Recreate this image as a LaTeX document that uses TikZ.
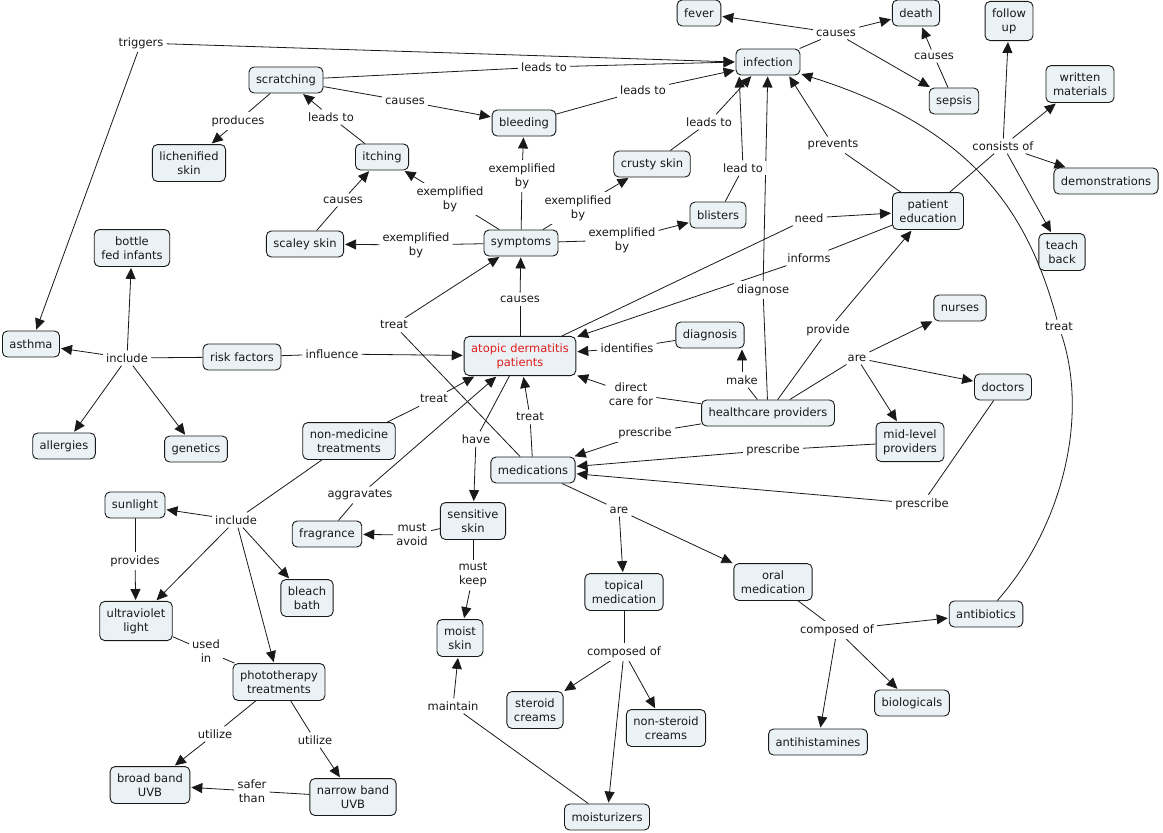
\documentclass[tikz,border=0pt]{standalone}
\usepackage{fontspec}
\setmainfont{DejaVu Sans}
\usetikzlibrary{arrows.meta}
\definecolor{cfill}{RGB}{235,242,245}
\definecolor{cred}{RGB}{225,30,30}
\pgfdeclarelayer{bg}
\pgfsetlayers{bg,main}
\begin{document}
\begin{tikzpicture}[x=1pt,y=-1pt,
 concept/.style={draw=black!90, line width=0.9pt, rounded corners=5pt, fill=cfill, align=center, inner xsep=7pt, inner ysep=7pt, minimum height=26pt, font=\fontsize{11.5}{14}\selectfont, text=black!90},
 lab/.style={fill=white, inner sep=3pt, align=center, font=\fontsize{11.5}{14}\selectfont, text=black!90},
 ln/.style={line width=0.8pt, draw=black!90},
 ar/.style={ln, -{Triangle[length=11pt,width=10pt]}, shorten >=1pt},
]
\useasboundingbox (0,0) rectangle (1163,833);
% concepts
\node[concept] (fever) at (699,13) {fever};
\node[concept] (death) at (916,13) {death};
\node[concept] (follow) at (1009,21) {follow\\up};
\node[concept] (infection) at (768,62) {infection};
\node[concept] (written) at (1080,84) {written\\materials};
\node[concept] (sepsis) at (954,101) {sepsis};
\node[concept] (scratching) at (286,80) {scratching};
\node[concept] (bleeding) at (524,123) {bleeding};
\node[concept] (lichen) at (189,163) {lichenified\\skin};
\node[concept] (itching) at (382,157) {itching};
\node[concept] (crusty) at (652,164) {crusty skin};
\node[concept] (demo) at (1106,181) {demonstrations};
\node[concept] (blisters) at (718,215) {blisters};
\node[concept] (pated) at (928,211) {patient\\education};
\node[concept] (scaley) at (305,244) {scaley skin};
\node[concept] (symptoms) at (521,243) {symptoms};
\node[concept] (teach) at (1062,252) {teach\\back};
\node[concept] (bottle) at (132,248) {bottle\\fed infants};
\node[concept] (nurses) at (960,308) {nurses};
\node[concept] (asthma) at (31,344) {asthma};
\node[concept] (risk) at (242,357) {risk factors};
\node[concept,text=cred] (atopic) at (520,356) {atopic dermatitis\\patients};
\node[concept] (diagnosis) at (710,335) {diagnosis};
\node[concept] (doctors) at (1003,387) {doctors};
\node[concept] (hcp) at (768,413) {healthcare providers};
\node[concept] (midlevel) at (910,442) {mid-level\\providers};
\node[concept] (allergies) at (64,446) {allergies};
\node[concept] (genetics) at (196,449) {genetics};
\node[concept] (nonmed) at (349,441) {non-medicine\\treatments};
\node[concept] (meds) at (533,470) {medications};
\node[concept] (sunlight) at (135,505) {sunlight};
\node[concept] (fragrance) at (327,534) {fragrance};
\node[concept] (sensitive) at (473,521) {sensitive\\skin};
\node[concept] (uv) at (136,621) {ultraviolet\\light};
\node[concept] (bleach) at (307,598) {bleach\\bath};
\node[concept] (topical) at (624,592) {topical\\medication};
\node[concept] (oral) at (773,582) {oral\\medication};
\node[concept] (moist) at (460,638) {moist\\skin};
\node[concept] (antibiotics) at (986,614) {antibiotics};
\node[concept] (photo) at (279,682) {phototherapy\\treatments};
\node[concept] (steroid) at (535,710) {steroid\\creams};
\node[concept] (nonsteroid) at (666,728) {non-steroid\\creams};
\node[concept] (biologicals) at (912,703) {biologicals};
\node[concept] (antihist) at (818,742) {antihistamines};
\node[concept] (broad) at (150,785) {broad band\\UVB};
\node[concept] (narrow) at (353,797) {narrow band\\UVB};
\node[concept] (moisturizers) at (607,817) {moisturizers};
% linking phrases
\node[lab] (cA) at (836,33) {causes};
\node[lab] (cB) at (934,56) {causes};
\node[lab] (trig) at (141,43) {triggers};
\node[lab] (lA) at (544,67) {leads to};
\node[lab] (cC) at (405,101) {causes};
\node[lab] (prod) at (238,121) {produces};
\node[lab] (lB) at (331,117) {leads to};
\node[lab] (lC) at (643,90) {leads to};
\node[lab] (lD) at (709,122) {leads to};
\node[lab] (lE) at (743,168) {lead to};
\node[lab] (prev) at (833,145) {prevents};
\node[lab] (cons) at (1003,146) {consists of};
\node[lab] (cD) at (343,200) {causes};
\node[lab] (exA) at (450,199) {exemplified\\by};
\node[lab] (exB) at (522,176) {exemplified\\by};
\node[lab] (exC) at (578,208) {exemplified\\by};
\node[lab] (exD) at (622,240) {exemplified\\by};
\node[lab] (exE) at (416,245) {exemplified\\by};
\node[lab] (cE) at (520,299) {causes};
\node[lab] (tA) at (394,325) {treat};
\node[lab] (need) at (809,218) {need};
\node[lab] (inf) at (809,258) {informs};
\node[lab] (diag) at (763,290) {diagnose};
\node[lab] (ident) at (627,348) {identifies};
\node[lab] (make) at (742,380) {make};
\node[lab] (prov) at (828,330) {provide};
\node[lab] (areA) at (857,358) {are};
\node[lab] (direct) at (631,394) {direct\\care for};
\node[lab] (pA) at (645,433) {prescribe};
\node[lab] (pB) at (773,450) {prescribe};
\node[lab] (pC) at (922,504) {prescribe};
\node[lab] (infl) at (332,354) {influence};
\node[lab] (incA) at (127,358) {include};
\node[lab] (tB) at (434,399) {treat};
\node[lab] (tC) at (530,417) {treat};
\node[lab] (have) at (476,439) {have};
\node[lab] (aggr) at (360,495) {aggravates};
\node[lab] (mavoid) at (412,535) {must\\avoid};
\node[lab] (mkeep) at (473,575) {must\\keep};
\node[lab] (areB) at (619,510) {are};
\node[lab] (incB) at (236,520) {include};
\node[lab] (provs) at (135,561) {provides};
\node[lab] (used) at (206,651) {used\\in};
\node[lab] (utA) at (215,734) {utilize};
\node[lab] (utB) at (315,740) {utilize};
\node[lab] (safer) at (252,791) {safer\\than};
\node[lab] (compA) at (624,652) {composed of};
\node[lab] (maint) at (453,706) {maintain};
\node[lab] (compB) at (837,630) {composed of};
\node[lab] (tD) at (1059,327) {treat};
% connectors
\begin{pgfonlayer}{bg}
\draw[ln] (infection) -- (cA);
\draw[ar] (cA) -- (fever);
\draw[ar] (cA) -- (death);
\draw[ar] (cA) -- (sepsis);
\draw[ln] (sepsis) -- (cB);
\draw[ar] (cB) -- (death);
\draw[ar] (trig) -- (infection.west);
\draw[ar] (trig) -- (asthma);
\draw[ln] (scratching) -- (lA);
\draw[ar] (lA) -- (infection.west);
\draw[ln] (scratching) -- (cC);
\draw[ar] (cC) -- (bleeding);
\draw[ln] (scratching) -- (prod);
\draw[ar] (prod) -- (lichen);
\draw[ln] (itching) -- (lB);
\draw[ar] (lB) -- (scratching);
\draw[ln] (bleeding) -- (lC);
\draw[ar] (lC) -- (infection.194);
\draw[ln] (crusty) -- (lD);
\draw[ar] (lD) -- (infection.220);
\draw[ln] (blisters) -- (lE);
\draw[ar] (lE) -- (infection.205);
\draw[ln] (pated) -- (prev);
\draw[ar] (prev) -- (infection.-33);
\draw[ln] (pated) -- (cons);
\draw[ar] (cons) -- (follow);
\draw[ar] (cons) -- (written);
\draw[ar] (cons) -- (demo);
\draw[ar] (cons) -- (teach);
\draw[ln] (symptoms) -- (exA); \draw[ar] (exA) -- (itching);
\draw[ln] (symptoms) -- (exB); \draw[ar] (exB) -- (bleeding);
\draw[ln] (symptoms) -- (exC); \draw[ar] (exC) -- (crusty);
\draw[ln] (symptoms) -- (exD); \draw[ar] (exD) -- (blisters);
\draw[ln] (symptoms) -- (exE); \draw[ar] (exE) -- (scaley);
\draw[ln] (scaley) -- (cD); \draw[ar] (cD) -- (itching);
\draw[ln] (atopic) -- (cE); \draw[ar] (cE) -- (symptoms);
\draw[ln] (meds) -- (tA); \draw[ar] (tA) -- (symptoms);
\draw[ln] (atopic) -- (need); \draw[ar] (need) -- (pated);
\draw[ln] (pated) -- (inf); \draw[ar] (inf) -- (atopic);
\draw[ln] (hcp) -- (diag); \draw[ar] (diag) -- (infection);
\draw[ln] (diagnosis) -- (ident); \draw[ar] (ident) -- (atopic);
\draw[ln] (hcp) -- (make); \draw[ar] (make) -- (make |- diagnosis.south);
\draw[ln] (hcp) -- (prov); \draw[ar] (prov) -- (pated);
\draw[ln] (hcp) -- (areA);
\draw[ar] (areA) -- (nurses);
\draw[ar] (areA) -- (doctors);
\draw[ar] (areA) -- (midlevel);
\draw[ln] (hcp) -- (direct); \draw[ar] (direct) -- (atopic);
\draw[ln] (hcp) -- (pA); \draw[ar] (pA) -- (meds);
\draw[ln] (midlevel) -- (pB); \draw[ar] (pB) -- (meds);
\draw[ln] (doctors) -- (pC); \draw[ar] (pC) -- (meds);
\draw[ln] (risk) -- (infl); \draw[ar] (infl) -- (atopic);
\draw[ln] (risk) -- (incA);
\draw[ar] (incA) -- (asthma);
\draw[ar] (incA) -- (bottle);
\draw[ar] (incA) -- (allergies);
\draw[ar] (incA) -- (genetics);
\draw[ln] (nonmed) -- (tB); \draw[ar] (tB) -- (atopic.204);
\draw[ln] (meds) -- (tC); \draw[ar] (tC) -- (atopic);
\draw[ln] (atopic) -- (have); \draw[ar] (have) -- (sensitive);
\draw[ln] (fragrance) -- (aggr); \draw[ar] (aggr) -- (atopic);
\draw[ln] (sensitive) -- (mavoid); \draw[ar] (mavoid) -- (fragrance);
\draw[ln] (sensitive) -- (mkeep); \draw[ar] (mkeep) -- (moist);
\draw[ln] (meds) -- (areB);
\draw[ar] (areB) -- (topical);
\draw[ar] (areB) -- (oral);
\draw[ln] (nonmed) -- (incB);
\draw[ar] (incB) -- (sunlight);
\draw[ar] (incB) -- (uv);
\draw[ar] (incB) -- (bleach);
\draw[ar] (incB) -- (photo);
\draw[ln] (sunlight) -- (provs); \draw[ar] (provs) -- (uv);
\draw[ln] (uv) -- (used); \draw[ln] (used) -- (photo);
\draw[ln] (photo) -- (utA); \draw[ar] (utA) -- (broad);
\draw[ln] (photo) -- (utB); \draw[ar] (utB) -- (narrow);
\draw[ln] (narrow) -- (safer); \draw[ar] (safer) -- (broad);
\draw[ln] (topical) -- (compA);
\draw[ar] (compA) -- (steroid);
\draw[ar] (compA) -- (nonsteroid);
\draw[ar] (compA) -- (moisturizers);
\draw[ln] (moisturizers) -- (maint); \draw[ar] (maint) -- (moist);
\draw[ln] (oral) -- (compB);
\draw[ar] (compB) -- (antibiotics);
\draw[ar] (compB) -- (biologicals);
\draw[ar] (compB) -- (antihist);
\draw[ln] (antibiotics.50) .. controls (1060,530) and (1090,420) .. (tD);
\draw[ar] (tD) .. controls (1030,220) and (980,130) .. (infection.-20);
\end{pgfonlayer}
\end{tikzpicture}
\end{document}
